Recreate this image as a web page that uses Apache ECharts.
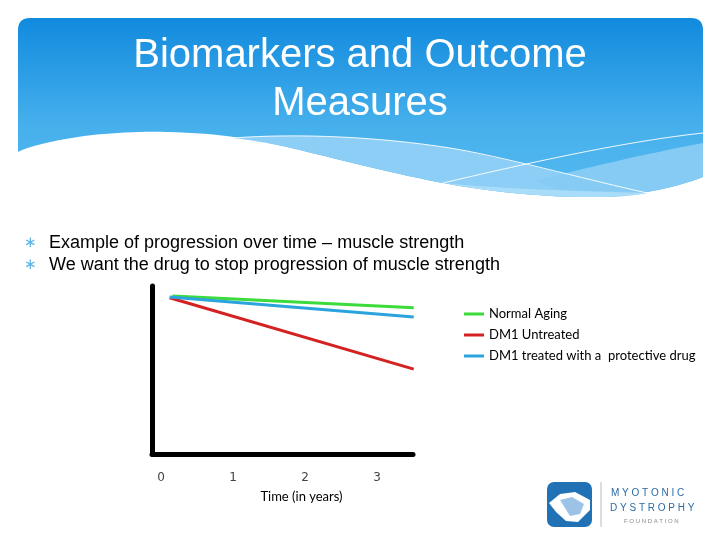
<!DOCTYPE html>
<html>
<head>
<meta charset="utf-8">
<script src="https://cdn.jsdelivr.net/npm/echarts@6/dist/echarts.min.js"></script>
<style>html,body{margin:0;padding:0;background:#fff;}#c{width:720px;height:540px;}</style>
</head>
<body>
<div id="c"></div>
<script>
// ---- data ----
const seriesNames = ['Normal Aging', 'DM1 Untreated', 'DM1 treated with a  protective drug'];
const normalAging = [[0.16, 94], [3.51, 87]];
const dm1Untreated = [[0.12, 93], [3.51, 50.5]];
const dm1Treated = [[0.12, 93.5], [3.51, 81.5]];
const xTickValues = [0, 1, 2, 3];
const titleText = 'Biomarkers and Outcome\nMeasures';
const bullets = ['Example of progression over time \u2013 muscle strength', 'We want the drug to stop progression of muscle strength'];
const xAxisName = 'Time (in years)';

const colors = ['#3bdb3b', '#d42222', '#2ba4de'];

// sample a simple absolute path (M, L, C, Q, Z) into a list of points for decoration shapes
function pathPoints(d) {
  const tok = d.match(/[MLCQZ]|-?\d*\.?\d+/g);
  const pts = [];
  let i = 0, cur = [0, 0], cmd = null;
  const num = () => parseFloat(tok[i++]);
  while (i < tok.length) {
    if (/[MLCQZ]/.test(tok[i])) cmd = tok[i++];
    if (cmd === 'Z') { continue; }
    if (cmd === 'M' || cmd === 'L') {
      cur = [num(), num()]; pts.push(cur.slice());
    } else if (cmd === 'C') {
      const p1 = [num(), num()], p2 = [num(), num()], p3 = [num(), num()];
      for (let k = 1; k <= 16; k++) {
        const t = k / 16, u = 1 - t;
        pts.push([
          u*u*u*cur[0] + 3*u*u*t*p1[0] + 3*u*t*t*p2[0] + t*t*t*p3[0],
          u*u*u*cur[1] + 3*u*u*t*p1[1] + 3*u*t*t*p2[1] + t*t*t*p3[1]
        ]);
      }
      cur = p3;
    } else if (cmd === 'Q') {
      const p1 = [num(), num()], p2 = [num(), num()];
      for (let k = 1; k <= 8; k++) {
        const t = k / 8, u = 1 - t;
        pts.push([u*u*cur[0] + 2*u*t*p1[0] + t*t*p2[0], u*u*cur[1] + 2*u*t*p1[1] + t*t*p2[1]]);
      }
      cur = p2;
    }
  }
  return pts;
}

const chart = echarts.init(document.getElementById('c'), null, {renderer: 'canvas'});

const graphics = [
  {type: 'polygon', z: -10, shape: {points: pathPoints('M18,30 Q18,18 30,18 L691,18 Q703,18 703,30 L703,177 C680,186 640,196 600,197 C540,198 480,190 443,183 C400,175 340,160 300,150 C260,140 220,133 167,132 C130,131 90,134 60,140 C40,144 25,148 18,152 Z')},
    style: {fill: {type: 'linear', x: 0, y: 0, x2: 0, y2: 1, colorStops: [{offset: 0, color: '#118ade'}, {offset: 0.6, color: '#46b0ec'}, {offset: 1, color: '#55b9ef'}]}}},
  {type: 'polygon', z: -9, shape: {points: pathPoints('M233,138 C300,133 380,137 450,148 C500,157 570,176 647,193 C630,196 615,197 600,197 C540,198 480,190 443,183 C400,175 340,160 300,150 C270,143 250,140 233,138 Z')},
    style: {fill: '#8ccef5'}},
  {type: 'polygon', z: -9, shape: {points: pathPoints('M703,143 C640,155 585,168 535,181 C560,191 585,197 600,197 C640,196 680,186 703,177 Z')},
    style: {fill: '#86cbf4'}},
  {type: 'polygon', z: -8, shape: {points: pathPoints('M443,183 C500,189 580,191 647,193 C630,196 615,197 600,197 C540,198 480,190 443,183 Z')},
    style: {fill: '#a9dcf8'}},
  {type: 'polyline', z: -7, shape: {points: pathPoints('M233,138 C300,133 380,137 450,148 C500,156 580,178 647,193')},
    style: {fill: null, stroke: 'rgba(255,255,255,0.9)', lineWidth: 1}},
  {type: 'polyline', z: -7, shape: {points: pathPoints('M443,183 C520,165 620,142 703,133')},
    style: {fill: null, stroke: 'rgba(255,255,255,0.9)', lineWidth: 1}},
  {type: 'text', left: 24, top: 236, style: {text: '\u2217', fill: '#5ab6e6', font: '15px "DejaVu Sans"'}},
  {type: 'text', left: 24, top: 258, style: {text: '\u2217', fill: '#5ab6e6', font: '15px "DejaVu Sans"'}},
  {type: 'text', left: 49, top: 234, style: {text: bullets[0], fill: '#000', font: '18px "Liberation Sans"'}},
  {type: 'text', left: 49, top: 256, style: {text: bullets[1], fill: '#000', font: '18px "Liberation Sans"'}},
  {type: 'rect', shape: {x: 547, y: 482, width: 45, height: 45, r: 7}, style: {fill: '#2171b5'}},
  {type: 'polygon', shape: {points: [[549, 503], [560, 494], [575, 492], [590, 500], [590, 510], [578, 522], [566, 521], [556, 512]]}, style: {fill: '#ffffff'}},
  {type: 'polygon', shape: {points: [[560, 500], [572, 497], [584, 504], [580, 514], [570, 516]]}, style: {fill: '#9cc3e6'}},
  {type: 'line', shape: {x1: 601, y1: 482, x2: 601, y2: 527}, style: {stroke: '#bbbbbb', lineWidth: 1}},
  {type: 'text', left: 611, top: 488, style: {text: 'M Y O T O N I C', fill: '#2a6aa6', font: '10px "Liberation Sans"'}},
  {type: 'text', left: 610, top: 503, style: {text: 'D Y S T R O P H Y', fill: '#2a6aa6', font: '10px "Liberation Sans"'}},
  {type: 'text', left: 624, top: 518, style: {text: 'F O U N D A T I O N', fill: '#888888', font: '6px "Liberation Sans"'}}
];

const option = {
  backgroundColor: '#ffffff',
  animation: false,
  color: colors,
  title: {
    text: titleText,
    left: 'center',
    top: 27,
    textStyle: {color: '#ffffff', fontFamily: 'Liberation Sans', fontSize: 40, fontWeight: 'normal', lineHeight: 48}
  },
  legend: {
    orient: 'vertical',
    left: 459,
    top: 302,
    itemWidth: 20,
    itemHeight: 3,
    itemGap: 7,
    icon: 'rect',
    data: seriesNames,
    textStyle: {color: '#000', fontFamily: 'Lato', fontSize: 13, lineHeight: 14}
  },
  grid: {left: 152, right: 307, top: 286, bottom: 86, containLabel: false},
  xAxis: {
    type: 'value',
    min: -0.125,
    max: 3.5,
    name: xAxisName,
    nameLocation: 'middle',
    nameGap: 36,
    nameTextStyle: {color: '#000', fontFamily: 'Lato', fontSize: 13, padding: [0, 0, 0, 38]},
    axisLine: {show: true, onZero: false, lineStyle: {color: '#000', width: 5}},
    axisTick: {show: false},
    splitLine: {show: false},
    axisLabel: {customValues: xTickValues, color: '#444', fontFamily: 'DejaVu Sans', fontSize: 12, margin: 18}
  },
  yAxis: {
    type: 'value',
    min: 0,
    max: 100,
    axisLine: {show: true, onZero: false, lineStyle: {color: '#000', width: 5}},
    axisTick: {show: false},
    axisLabel: {show: false},
    splitLine: {show: false}
  },
  graphic: graphics,
  series: [
    {name: seriesNames[0], type: 'line', data: normalAging, symbol: 'none', lineStyle: {width: 3, color: colors[0]}, z: 3},
    {name: seriesNames[1], type: 'line', data: dm1Untreated, symbol: 'none', lineStyle: {width: 3, color: colors[1]}, z: 2},
    {name: seriesNames[2], type: 'line', data: dm1Treated, symbol: 'none', lineStyle: {width: 3, color: colors[2]}, z: 4}
  ]
};
chart.setOption(option);
</script>
</body>
</html>
